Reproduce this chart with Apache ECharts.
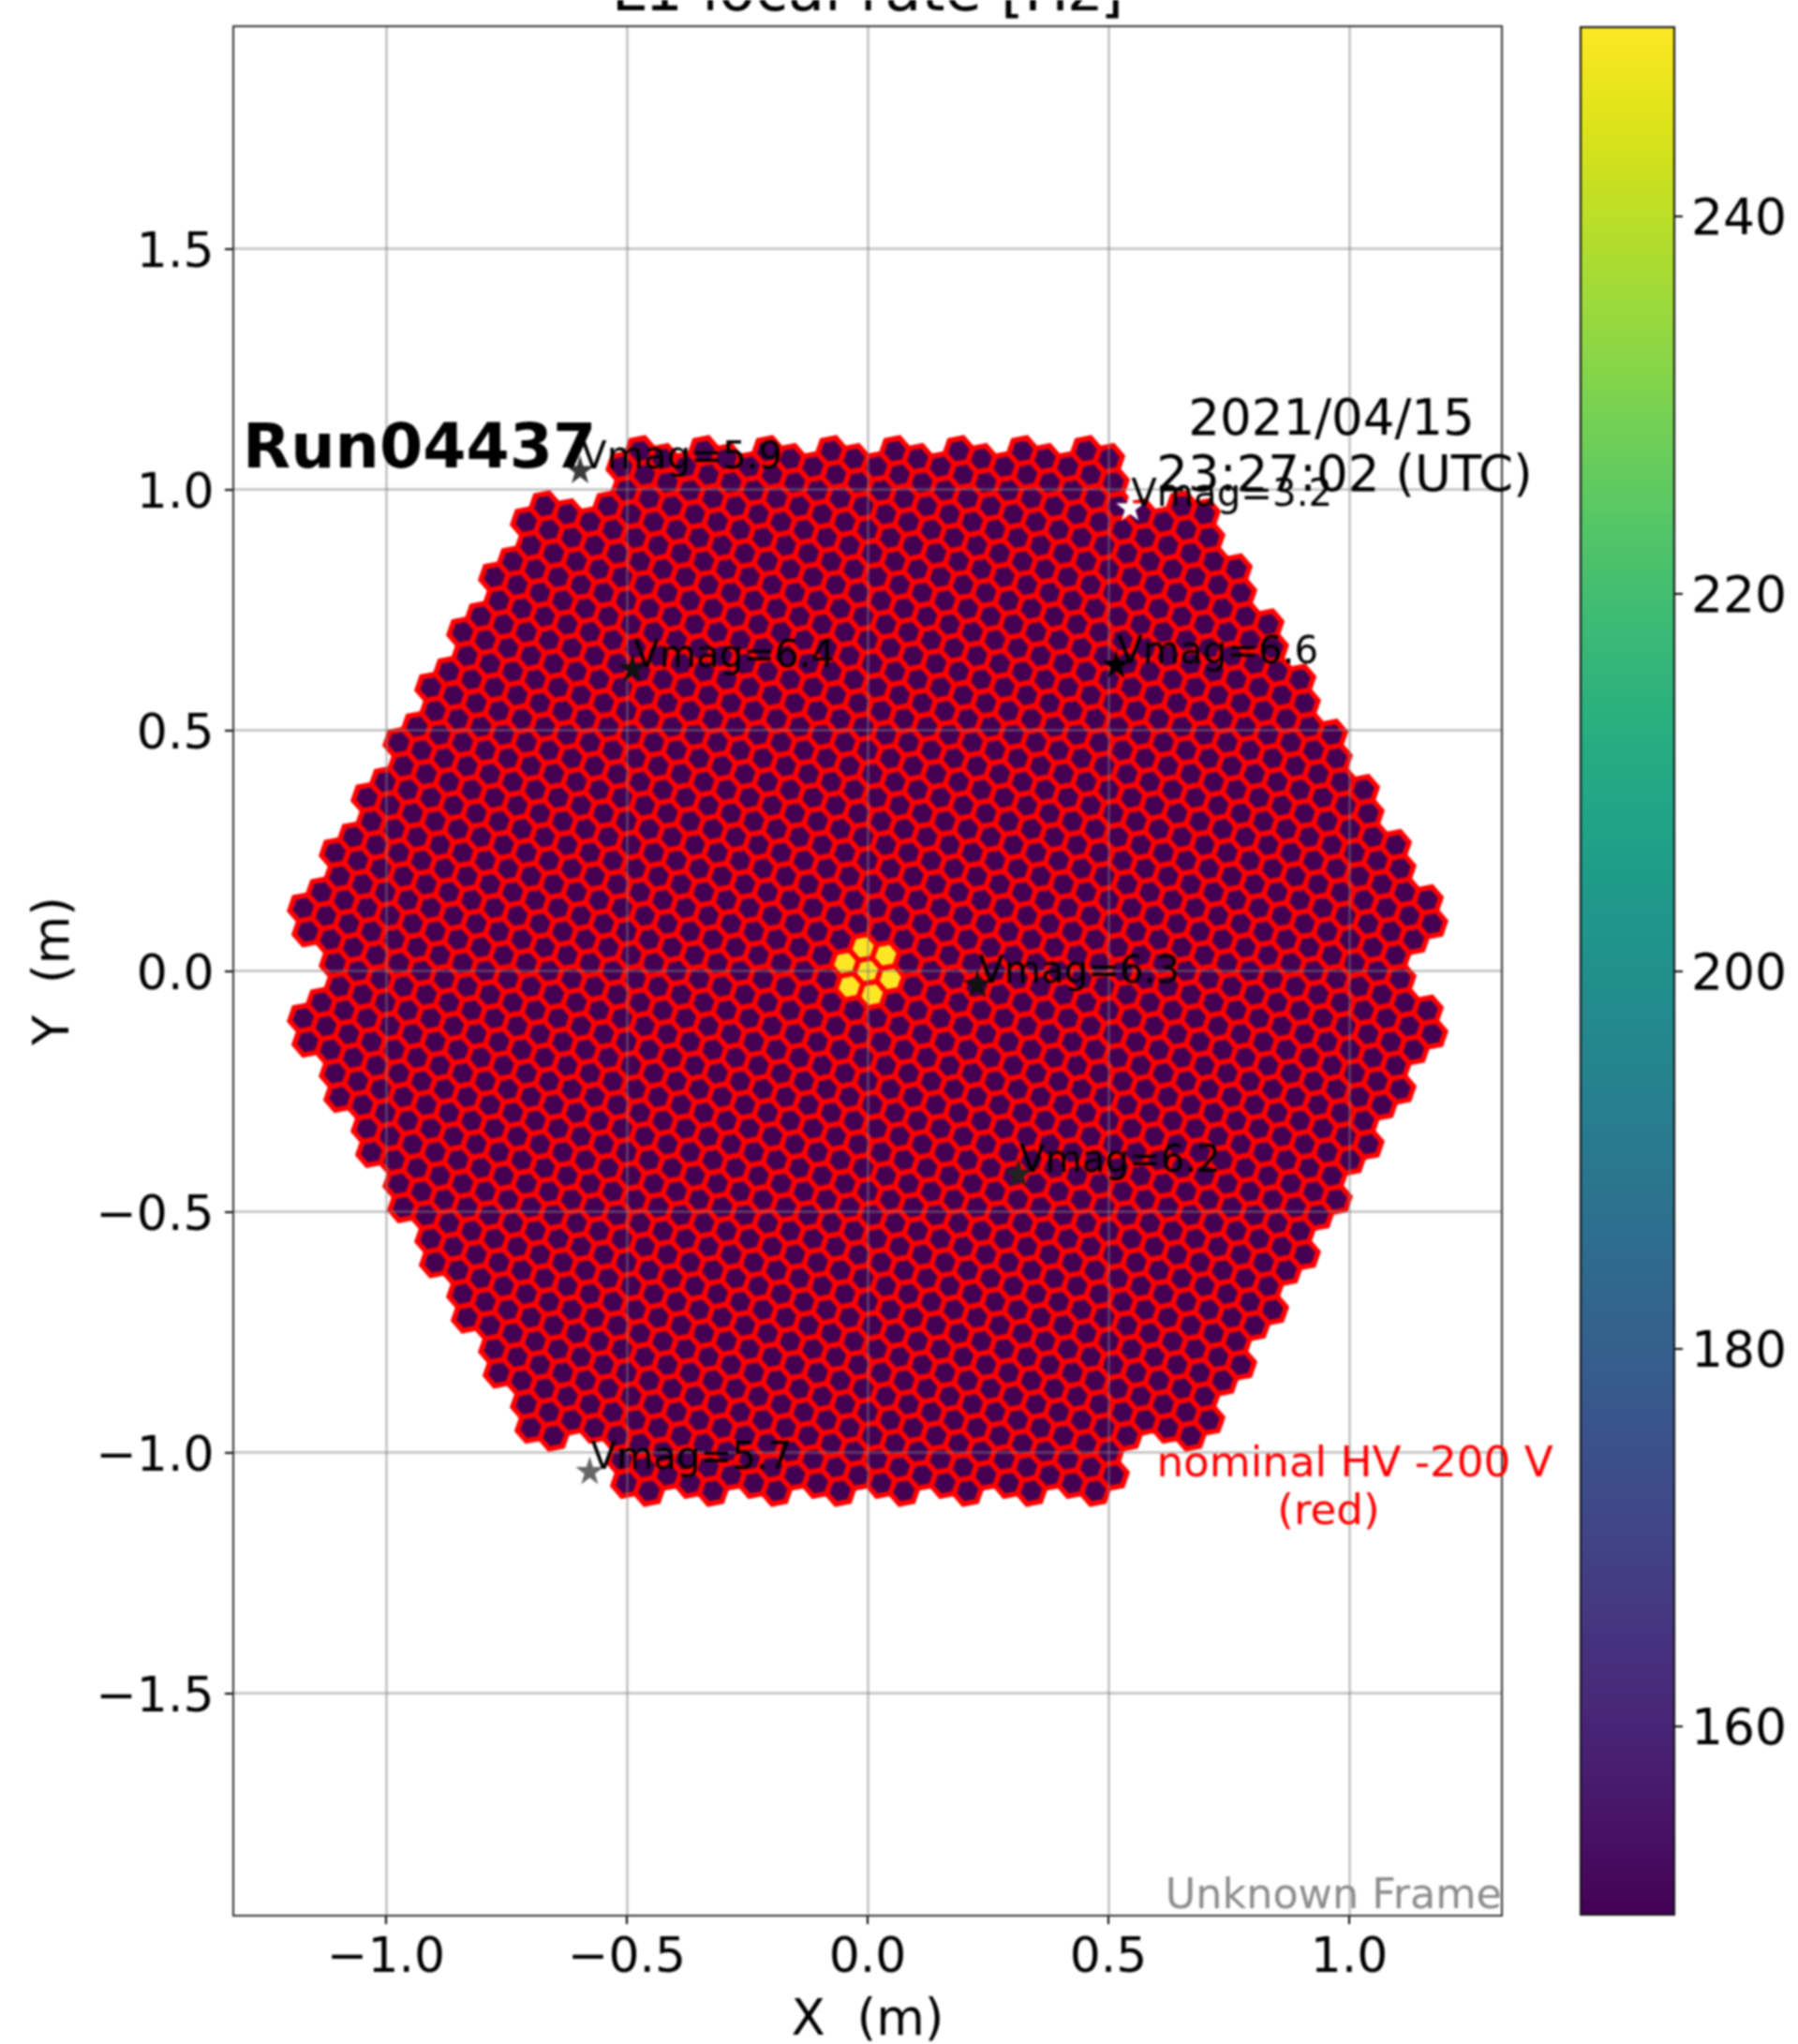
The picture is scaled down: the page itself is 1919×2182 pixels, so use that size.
<!DOCTYPE html>
<html>
<head>
<meta charset="utf-8">
<title>L1 local rate</title>
<script src="https://cdn.jsdelivr.net/npm/echarts@6/dist/echarts.min.js"></script>
<style>
html, body { margin: 0; padding: 0; background: #fff; }
#main { width: 1919px; height: 2182px; filter: blur(1px); }
</style>
</head>
<body>
<div id="main"></div>
<script>
// camera layout, metres: modules per row from bottom to top, 7 pixels in a module
var moduleRowCounts = [8, 11, 12, 13, 14, 15, 16, 17, 18, 17, 18, 17, 16, 15, 14, 13, 12, 11, 8];
var moduleStepX = 0.13228;
var moduleStepY = 0.11456;
var pixelOffsets = [
    [0, 0], [0.04725, -0.01637], [0.03778, 0.03275], [-0.00945, 0.04912],
    [-0.04725, 0.01637], [-0.03778, -0.03275], [0.00945, -0.04912]
];
var pixelRadius = 0.02887;
var pixelVertexAngle = 10.9;

// rates: everything at the bottom of the scale but the centre module
var baseRate = 150;
var hotRate = 250;

var xTicks = [-1, -0.5, 0, 0.5, 1];
var yTicks = [-1.5, -1, -0.5, 0, 0.5, 1, 1.5];
var barTicks = [160, 180, 200, 220, 240];

var starNames = ['Vmag=5.9', 'Vmag=6.4', 'Vmag=3.2', 'Vmag=6.6', 'Vmag=6.3', 'Vmag=6.2', 'Vmag=5.7'];
var starX = [-0.597, -0.488, 0.545, 0.516, 0.228, 0.313, -0.577];
var starY = [1.042, 0.630, 0.965, 0.638, -0.026, -0.420, -1.037];
var starColors = ['#3a3a3a', '#111111', '#ffffff', '#000000', '#111111', '#222222', '#666666'];

var viridis = ['#440154', '#481568', '#482677', '#453781', '#404788', '#39568c', '#33638d', '#2d708e', '#287d8e', '#238a8d',
    '#1f968b', '#20a387', '#29af7f', '#3cbb75', '#55c667', '#73d055', '#95d840', '#b8de29', '#dce319', '#fde725'];

var starPath = 'path://M50 0 L61 35 L98 35 L68 57 L79 91 L50 70 L21 91 L32 57 L2 35 L39 35 Z';
var FONT = '"DejaVu Sans"';

var pixels = [];
moduleRowCounts.forEach(function (count, row) {
    for (var i = 0; i < count; i++) {
        var cx = (i - (count - 1) / 2) * moduleStepX;
        var cy = (row - 9) * moduleStepY;
        var isHot = (cx === 0 && cy === 0);
        pixelOffsets.forEach(function (off) {
            pixels.push([cx + off[0], cy + off[1], isHot ? hotRate : baseRate]);
        });
    }
});

function renderPixel (params, api) {
    var x = api.value(0), y = api.value(1);
    var points = [];
    for (var k = 0; k < 6; k++) {
        var a = (pixelVertexAngle + 60 * k) * Math.PI / 180;
        points.push(api.coord([x + pixelRadius * Math.cos(a), y + pixelRadius * Math.sin(a)]));
    }
    return {
        type: 'polygon',
        shape: { points: points },
        style: { fill: api.visual('color'), stroke: '#ff0000', lineWidth: 5.6 }
    };
}

function tickText (v) {
    return v.toFixed(1).replace('-', '\u2212');
}

var myChart = echarts.init(document.getElementById('main'));

myChart.setOption({
    backgroundColor: '#ffffff',
    animation: false,
    textStyle: { fontFamily: FONT },
    title: {
        text: 'L1 local rate [Hz]',
        left: 921,
        top: -43,
        textAlign: 'center',
        textStyle: { fontFamily: FONT, fontSize: 63.8, fontWeight: 'normal', color: '#000' }
    },
    grid: [
        { left: 249, top: 28, width: 1354, height: 2017, outerBoundsMode: 'none', show: true, borderColor: '#333', borderWidth: 2, z: 6 },
        { left: 1687, top: 29, width: 100, height: 2015, outerBoundsMode: 'none', show: true, borderColor: '#111', borderWidth: 2, z: 6 }
    ],
    visualMap: {
        type: 'continuous',
        seriesIndex: 0,
        dimension: 2,
        min: 150,
        max: 250,
        calculable: false,
        left: 1687,
        top: 29,
        padding: 0,
        itemWidth: 100,
        itemHeight: 2015,
        inRange: { color: viridis }
    },
    xAxis: [{
        type: 'value',
        gridIndex: 0,
        min: -1.317,
        max: 1.317,
        z: 5,
        name: 'X  (m)',
        nameLocation: 'middle',
        nameGap: 87,
        nameTextStyle: { fontFamily: FONT, fontSize: 53, color: '#000' },
        axisLine: { show: false, onZero: false },
        axisTick: { show: true, length: 9, customValues: xTicks, lineStyle: { color: '#000', width: 2 } },
        axisLabel: { customValues: xTicks, margin: 20, fontFamily: FONT, fontSize: 52, color: '#000', formatter: tickText },
        splitLine: { show: true, lineStyle: { color: 'rgba(128,128,128,0.5)', width: 2.5 } }
    }, {
        type: 'value',
        gridIndex: 1,
        min: 0,
        max: 1,
        show: false
    }],
    yAxis: [{
        type: 'value',
        gridIndex: 0,
        min: -1.9625,
        max: 1.9625,
        z: 5,
        name: 'Y  (m)',
        nameLocation: 'middle',
        nameGap: 163,
        nameTextStyle: { fontFamily: FONT, fontSize: 53, color: '#000' },
        axisLine: { show: false, onZero: false },
        axisTick: { show: true, length: 9, customValues: yTicks, lineStyle: { color: '#000', width: 2 } },
        axisLabel: { customValues: yTicks, margin: 20.5, verticalAlign: 'top', lineHeight: 12, fontFamily: FONT, fontSize: 52, color: '#000', formatter: tickText },
        splitLine: { show: true, lineStyle: { color: 'rgba(128,128,128,0.5)', width: 2.5 } }
    }, {
        type: 'value',
        gridIndex: 1,
        position: 'right',
        min: 150,
        max: 250,
        axisLine: { show: false, onZero: false },
        axisTick: { show: true, length: 9, customValues: barTicks, lineStyle: { color: '#000', width: 2 } },
        axisLabel: { customValues: barTicks, margin: 18, verticalAlign: 'top', lineHeight: 12, fontFamily: FONT, fontSize: 53.5, color: '#000' },
        splitLine: { show: false }
    }],
    series: [{
        name: 'L1 local rate',
        type: 'custom',
        xAxisIndex: 0,
        yAxisIndex: 0,
        z: 2,
        silent: true,
        renderItem: renderPixel,
        encode: { x: 0, y: 1 },
        data: pixels
    }, {
        name: 'stars',
        type: 'scatter',
        xAxisIndex: 0,
        yAxisIndex: 0,
        z: 8,
        silent: true,
        clip: false,
        symbol: starPath,
        symbolSize: 30,
        itemStyle: { opacity: 1 },
        label: {
            show: true,
            formatter: '{b}',
            position: ['50%', '50%'],
            align: 'left',
            verticalAlign: 'bottom',
            offset: [1, 8.5],
            fontFamily: FONT,
            fontSize: 40.3,
            color: '#000'
        },
        data: starNames.map(function (name, i) {
            return { name: name, value: [starX[i], starY[i]], itemStyle: { color: starColors[i], opacity: 1 } };
        })
    }],
    graphic: [
        { type: 'text', z: 9, x: 259, y: 448, style: { text: 'Run04437', fontFamily: FONT, fontSize: 66.5, fontWeight: 'bold', fill: '#000' } },
        { type: 'text', z: 9, x: 1421, y: 424, style: { text: '2021/04/15', align: 'center', fontFamily: FONT, fontSize: 53, fill: '#000' } },
        { type: 'text', z: 9, x: 1435, y: 484, style: { text: '23:27:02 (UTC)', align: 'center', fontFamily: FONT, fontSize: 53, fill: '#000' } },
        { type: 'text', z: 9, x: 1446, y: 1542, style: { text: 'nominal HV -200 V', align: 'center', fontFamily: FONT, fontSize: 45.2, fill: '#ff0000' } },
        { type: 'text', z: 9, x: 1418, y: 1593, style: { text: '(red)', align: 'center', fontFamily: FONT, fontSize: 45.2, fill: '#ff0000' } },
        { type: 'text', z: 9, x: 1603, y: 2003, style: { text: 'Unknown Frame', align: 'right', fontFamily: FONT, fontSize: 44.5, fill: '#8c8c8c' } }
    ]
});
</script>
</body>
</html>
